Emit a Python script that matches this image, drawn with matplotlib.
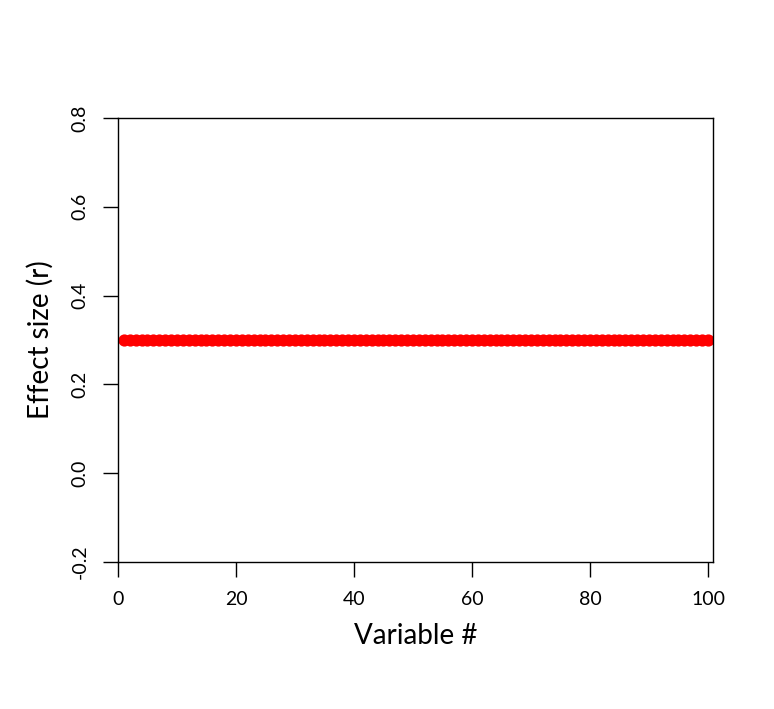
import numpy as np
import matplotlib
matplotlib.use("Agg")
import matplotlib.pyplot as plt

# data: 100 variables, every effect size sits at r = 0.3
variable = np.arange(1, 101)
effect = [0.3] * 100
yticks = [-0.2, 0.0, 0.2, 0.4, 0.6, 0.8]
xticks = [0, 20, 40, 60, 80, 100]

plt.rcParams['font.family'] = ['Lato', 'DejaVu Sans']

fig = plt.figure(figsize=(7.74, 7.09), dpi=100)
ax = fig.add_axes([118/774, 1 - 562/709, (713 - 118)/774, (562 - 118)/709])

ax.plot(variable, effect, "o", color="red", markersize=8.8, markeredgewidth=0)

ax.set_xlim(0, 100.85)
ax.set_ylim(-0.2, 0.8)
ax.set_xticks(xticks)
ax.set_yticks(yticks)
ax.set_yticklabels(["%.1f" % v for v in yticks], rotation=90, va="center")
ax.tick_params(length=11, width=1, labelsize=14, pad=10)

for s in ax.spines.values():
    s.set_linewidth(1)

ax.set_xlabel("Variable #", fontsize=20, labelpad=11)
ax.set_ylabel("Effect size (r)", fontsize=20, labelpad=13)

fig.savefig("out.png", dpi=100)
